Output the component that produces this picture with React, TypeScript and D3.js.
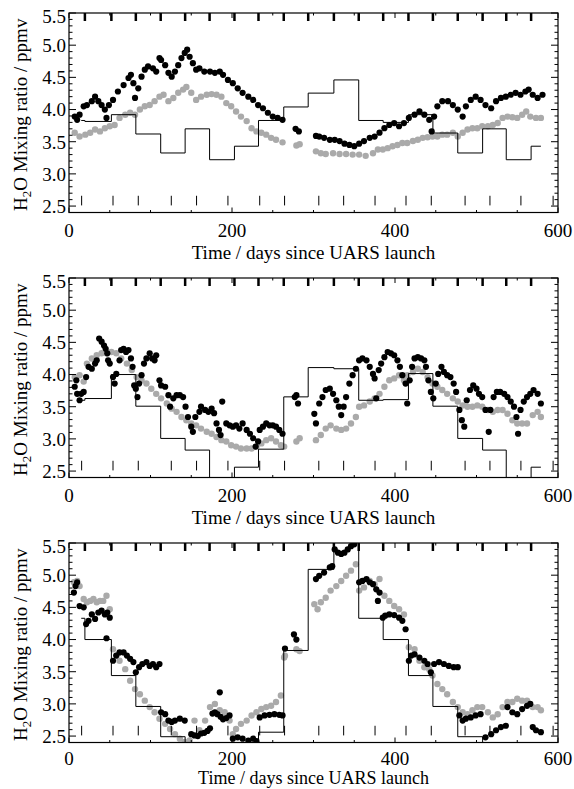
import React from "react";
import * as d3 from "d3";

const xTicksMajor = [0, 200, 400, 600];
const yTicksMajor = [2.5, 3.0, 3.5, 4.0, 4.5, 5.0, 5.5];

// month boundaries (days since launch) used for step line and thick top ticks
const monthEdges = [15, 19.5, 52, 82, 112.5, 142.5, 172.5, 203, 232.5, 263.5, 293.5, 325, 355.5, 385.5, 416.5, 446.5, 477, 507.5, 536.5, 567, 579];
// tall inner ticks along the bottom
const obsTicks = [15.5, 54, 85, 125.5, 156.5, 195, 234, 264.5, 306.5, 337, 375.5, 413.5, 444.5, 486, 516.5, 554.5, 594];

const p1Step = [3.83, 3.815, 3.92, 3.62, 3.325, 3.70, 3.22, 3.43, 3.83, 4.04, 4.255, 4.46, 3.83, 3.80, 3.92, 3.635, 3.325, 3.70, 3.22, 3.43];
const p2Step = [3.60, 3.627, 4.0, 3.508, 3.007, 2.826, 2.3, 2.56, 2.84, 3.653, 4.108, 4.09, 3.60, 3.61, 4.015, 3.508, 3.007, 2.826, 2.3, 2.56];
const p3Step = [4.33, 4.0, 3.44, 2.96, 2.49, 2.3, 2.3, 2.3, 2.56, 3.83, 5.09, 5.6, 4.33, 4.0, 3.44, 2.96, 2.49, 2.3, 2.3, 2.3];

const p1Black: [number, number][] = [[7,3.89],[10,3.84],[13,3.92],[18,4.05],[22,4.07],[28,4.13],[32,4.20],[36,4.13],[40,4.07],[44,4.00],[46,3.87],[49,4.07],[54,4.15],[60,4.28],[67,4.38],[73,4.49],[76,4.54],[79,4.41],[81,4.18],[85,4.33],[89,4.51],[93,4.62],[97,4.67],[103,4.64],[107,4.59],[111,4.80],[113,4.77],[118,4.69],[122,4.57],[126,4.51],[130,4.59],[134,4.69],[138,4.80],[142,4.88],[145,4.93],[148,4.82],[152,4.72],[156,4.62],[160,4.64],[166,4.59],[173,4.59],[179,4.57],[185,4.59],[189,4.54],[195,4.46],[201,4.41],[207,4.33],[213,4.26],[220,4.20],[226,4.15],[232,4.07],[238,4.02],[244,3.95],[250,3.89],[256,3.87],[262,3.84],[278,3.70],[282,3.66],[303,3.59],[307,3.58],[313,3.56],[320,3.53],[326,3.53],[332,3.51],[338,3.47],[344,3.45],[350,3.43],[356,3.47],[362,3.51],[369,3.56],[375,3.58],[381,3.64],[387,3.71],[393,3.76],[399,3.79],[405,3.74],[411,3.79],[417,3.87],[424,3.92],[430,3.97],[436,3.92],[442,3.84],[445,3.66],[448,3.89],[452,4.05],[458,4.13],[465,4.13],[471,4.07],[477,4.00],[483,3.89],[487,4.05],[493,4.15],[499,4.20],[505,4.15],[511,4.07],[518,4.02],[524,4.13],[530,4.18],[536,4.20],[542,4.23],[548,4.26],[554,4.23],[560,4.28],[564,4.31],[569,4.23],[575,4.18],[581,4.23]];
const p1Gray: [number, number][] = [[7,3.64],[13,3.58],[20,3.61],[26,3.64],[32,3.69],[38,3.66],[44,3.71],[50,3.74],[56,3.76],[62,3.87],[69,3.92],[75,3.95],[81,3.92],[87,4.00],[93,4.05],[99,4.07],[105,4.13],[111,4.20],[116,4.23],[122,4.13],[128,4.18],[134,4.26],[140,4.31],[144,4.35],[150,4.26],[156,4.15],[162,4.20],[169,4.23],[175,4.24],[181,4.23],[187,4.20],[193,4.10],[199,4.05],[205,3.97],[211,3.89],[218,3.82],[224,3.71],[230,3.66],[236,3.64],[242,3.61],[248,3.56],[254,3.53],[262,3.49],[279,3.44],[283,3.46],[303,3.35],[309,3.32],[315,3.31],[324,3.32],[332,3.31],[340,3.31],[348,3.30],[356,3.30],[364,3.28],[373,3.32],[379,3.38],[385,3.38],[391,3.40],[397,3.43],[403,3.45],[409,3.48],[415,3.48],[422,3.51],[428,3.53],[434,3.56],[440,3.57],[446,3.58],[452,3.58],[458,3.61],[464,3.61],[471,3.64],[477,3.58],[483,3.64],[489,3.69],[495,3.71],[501,3.71],[507,3.74],[514,3.74],[520,3.76],[526,3.79],[532,3.87],[538,3.89],[544,3.88],[550,3.87],[556,3.92],[561,3.97],[566,3.89],[573,3.87],[579,3.87]];

const p2Black: [number, number][] = [[7,3.81],[9,3.91],[10,3.70],[13,3.60],[15,3.70],[18,3.73],[21,3.96],[24,4.12],[28,4.09],[32,4.17],[34,4.22],[37,4.56],[40,4.51],[43,4.45],[45,4.40],[47,4.33],[48,4.22],[50,4.17],[54,3.96],[56,3.86],[58,4.01],[62,4.22],[64,4.38],[67,4.40],[70,4.35],[73,4.38],[76,4.25],[78,4.12],[80,3.83],[82,3.78],[84,3.65],[86,3.86],[89,3.99],[92,4.17],[95,4.25],[99,4.33],[102,4.25],[105,4.22],[107,4.30],[111,3.91],[113,3.83],[118,3.81],[122,3.68],[124,3.50],[128,3.63],[132,3.68],[136,3.68],[140,3.65],[143,3.50],[146,3.34],[150,3.19],[152,3.11],[155,3.34],[160,3.42],[162,3.50],[167,3.45],[171,3.42],[175,3.47],[178,3.40],[181,3.24],[184,3.14],[186,3.06],[188,3.58],[193,3.24],[197,3.21],[201,3.19],[205,3.21],[209,3.16],[213,3.24],[218,3.14],[222,3.08],[226,3.01],[229,2.88],[232,2.96],[234,3.14],[238,3.19],[242,3.24],[246,3.21],[250,3.21],[254,3.19],[258,3.14],[262,3.08],[277,3.65],[279,3.68],[281,3.55],[301,3.39],[303,3.24],[307,3.55],[311,3.65],[315,3.76],[320,3.78],[324,3.70],[328,3.60],[331,3.50],[334,3.37],[337,3.50],[340,3.65],[344,3.86],[348,3.99],[352,4.09],[356,4.22],[360,4.25],[365,4.22],[369,4.12],[373,4.01],[375,3.94],[377,3.63],[380,4.07],[383,4.17],[387,4.27],[391,4.35],[395,4.33],[399,4.30],[403,4.22],[406,4.12],[409,3.99],[413,3.86],[415,3.55],[418,3.91],[421,4.12],[424,4.25],[428,4.27],[432,4.25],[436,4.22],[438,4.12],[441,3.91],[444,3.73],[447,3.63],[450,3.86],[453,4.01],[457,4.12],[460,4.04],[464,3.99],[468,3.96],[472,3.86],[475,3.73],[479,3.45],[482,3.29],[485,3.19],[488,3.60],[492,3.76],[496,3.83],[500,3.78],[503,3.70],[507,3.65],[511,3.45],[515,3.11],[517,3.45],[521,3.65],[525,3.73],[529,3.73],[534,3.70],[538,3.65],[542,3.58],[546,3.50],[549,3.34],[551,3.08],[554,3.45],[558,3.58],[562,3.65],[566,3.70],[570,3.76],[575,3.70],[579,3.55]];
const p2Gray: [number, number][] = [[7,3.96],[13,3.99],[18,3.89],[22,4.17],[28,4.25],[34,4.30],[40,4.33],[46,4.33],[52,4.35],[58,4.33],[64,4.25],[71,4.17],[77,4.07],[83,3.96],[89,3.91],[95,3.86],[101,3.78],[107,3.70],[113,3.63],[120,3.55],[126,3.47],[132,3.42],[138,3.34],[144,3.29],[150,3.24],[156,3.21],[162,3.16],[169,3.11],[175,3.08],[181,3.03],[187,2.98],[193,2.96],[199,2.90],[205,2.88],[211,2.85],[218,2.85],[224,2.85],[230,2.88],[236,2.93],[242,2.98],[248,3.01],[254,2.96],[260,2.90],[264,2.88],[279,2.96],[283,3.01],[303,2.98],[309,3.06],[315,3.16],[321,3.21],[328,3.16],[334,3.14],[340,3.16],[346,3.24],[352,3.34],[356,3.50],[362,3.52],[369,3.58],[375,3.63],[381,3.70],[387,3.81],[393,3.91],[399,3.94],[405,3.99],[411,3.91],[415,3.99],[422,4.04],[428,4.09],[434,4.04],[440,3.96],[446,3.86],[452,3.81],[458,3.76],[464,3.70],[471,3.63],[477,3.58],[483,3.52],[489,3.50],[495,3.50],[501,3.52],[507,3.50],[514,3.45],[520,3.42],[526,3.45],[532,3.45],[538,3.39],[544,3.29],[550,3.24],[556,3.24],[562,3.24],[569,3.37],[575,3.42],[579,3.34]];

const p3Black: [number, number][] = [[6,4.73],[8,4.83],[10,4.89],[13,4.52],[18,4.50],[21,4.24],[24,4.29],[28,4.39],[32,4.32],[36,4.42],[40,4.45],[44,4.39],[46,4.02],[47,4.42],[50,4.34],[54,3.67],[58,3.75],[62,3.80],[67,3.80],[71,3.75],[75,3.70],[79,3.65],[82,3.49],[86,3.57],[90,3.62],[95,3.65],[99,3.59],[103,3.62],[107,3.57],[111,3.62],[113,2.87],[118,2.84],[122,2.74],[126,2.72],[130,2.74],[136,2.77],[142,2.74],[150,2.53],[154,2.51],[158,2.50],[162,2.54],[166,2.55],[170,2.58],[173,2.62],[176,2.85],[179,2.87],[182,2.84],[185,3.18],[186,2.80],[189,2.76],[193,2.78],[197,2.82],[201,2.46],[207,2.48],[213,2.46],[220,2.43],[226,2.46],[230,2.42],[234,2.79],[240,2.82],[246,2.83],[252,2.84],[258,2.83],[262,2.82],[265,3.86],[276,4.08],[279,4.00],[303,4.94],[307,4.99],[313,5.04],[320,5.12],[323,5.14],[326,5.40],[330,5.35],[334,5.33],[338,5.35],[342,5.40],[346,5.45],[350,5.48],[356,4.89],[360,4.91],[365,4.94],[369,4.89],[373,4.86],[377,4.78],[379,4.60],[381,4.73],[385,4.34],[388,4.37],[393,4.39],[399,4.38],[405,4.34],[409,4.29],[413,4.16],[417,3.67],[420,3.75],[424,3.77],[430,3.72],[436,3.67],[440,3.62],[444,3.49],[448,3.62],[454,3.65],[460,3.62],[466,3.59],[472,3.57],[477,3.57],[479,2.82],[483,2.74],[487,2.77],[493,2.79],[499,2.82],[505,2.84],[511,2.48],[518,2.53],[524,2.59],[530,2.64],[536,2.66],[538,2.95],[544,2.87],[550,2.84],[556,2.92],[562,2.97],[566,3.00],[569,2.64],[573,2.59],[579,2.56]];
const p3Gray: [number, number][] = [[6,4.89],[10,4.91],[13,4.83],[18,4.63],[22,4.58],[26,4.60],[30,4.63],[34,4.58],[38,4.60],[42,4.60],[46,4.68],[50,4.47],[54,3.85],[58,3.75],[62,3.67],[69,3.54],[75,3.36],[81,3.23],[87,3.15],[93,3.05],[99,2.95],[105,2.87],[111,2.77],[118,2.69],[124,2.61],[130,2.53],[136,2.46],[142,2.41],[148,2.43],[154,2.74],[160,2.59],[167,2.74],[173,2.95],[179,3.00],[185,2.90],[191,2.87],[197,2.74],[201,2.53],[205,2.61],[211,2.69],[218,2.74],[224,2.82],[230,2.87],[236,2.92],[242,2.95],[248,2.97],[254,3.03],[260,3.13],[264,3.72],[265,3.75],[279,3.85],[283,3.82],[301,4.55],[305,4.47],[309,4.58],[315,4.65],[321,4.76],[328,4.83],[334,4.91],[340,4.99],[346,5.07],[352,5.17],[356,4.76],[362,4.81],[369,4.91],[375,4.86],[381,4.94],[387,4.68],[393,4.60],[399,4.52],[405,4.47],[411,4.39],[417,3.88],[424,3.85],[430,3.67],[436,3.57],[442,3.54],[446,3.44],[452,3.31],[458,3.23],[464,3.15],[471,3.03],[477,2.95],[483,2.87],[489,2.84],[495,2.90],[501,2.95],[507,2.95],[514,2.87],[520,2.79],[526,2.84],[532,2.95],[538,3.03],[544,3.03],[550,3.08],[556,3.05],[562,3.05],[569,2.95],[575,2.95],[579,2.90]];

const panels = [
  { top: 13, black: p1Black, gray: p1Gray, step: p1Step },
  { top: 278, black: p2Black, gray: p2Gray, step: p2Step },
  { top: 543, black: p3Black, gray: p3Gray, step: p3Step },
];

const W = 574, H = 789;
const left = 69, right = 558, ph = 199.5;
const FONT = "'Liberation Serif', 'Times New Roman', serif";

function Panel({ idx, top, black, gray, step }: any) {
  const x = d3.scaleLinear().domain([0, 600]).range([left, right]);
  const y = d3.scaleLinear().domain([2.4, 5.5]).range([top + ph, top]);
  const bottom = top + ph;
  const clipId = `clip${idx}`;
  const stepPts: [number, number][] = step.map((v: number, i: number) => [monthEdges[i], v]);
  stepPts.push([monthEdges[monthEdges.length - 1], step[step.length - 1]]);
  const line = d3.line<[number, number]>().x(d => x(d[0])).y(d => y(d[1])).curve(d3.curveStepAfter);
  const yMinor = d3.range(25, 56).map(v => v / 10);
  const xMinor = d3.range(0, 601, 50);
  const midY = (top + bottom) / 2;
  const last = idx === 2;
  const tickLabelY = last ? bottom + 22.5 : bottom + 24.5;
  const titleY = last ? H - 5 : bottom + 46;
  const titleSize = last ? 18 : 19;
  return (
    <g>
      <defs>
        <clipPath id={clipId}>
          <rect x={left} y={top} width={right - left} height={ph} />
        </clipPath>
      </defs>
      <g clipPath={`url(#${clipId})`}>
        {gray.map((d: [number, number], i: number) => (
          <circle key={"g" + i} cx={x(d[0])} cy={y(d[1])} r={3.2} fill="#aaaaaa" />
        ))}
        {black.map((d: [number, number], i: number) => (
          <circle key={"b" + i} cx={x(d[0])} cy={y(d[1])} r={3.1} fill="#000" />
        ))}
        <path d={line(stepPts) || ""} fill="none" stroke="#000" strokeWidth={1} />
      </g>
      {obsTicks.map((t, i) => (
        <line key={"o" + i} x1={x(t)} x2={x(t)} y1={y(2.51)} y2={y(2.66)} stroke="#000" strokeWidth={1} />
      ))}
      {monthEdges.slice(1, -1).map((t, i) => (
        <rect key={"m" + i} x={x(t) - 1.25} y={top} width={2.5} height={8} fill="#000" />
      ))}
      {yMinor.map((v, i) => {
        const major = Math.abs(v * 2 - Math.round(v * 2)) < 1e-6;
        const len = major ? 7 : 3.5;
        return (
          <g key={"y" + i}>
            <line x1={left} x2={left + len} y1={y(v)} y2={y(v)} stroke="#000" strokeWidth={1} />
            <line x1={right} x2={right - len} y1={y(v)} y2={y(v)} stroke="#000" strokeWidth={1} />
          </g>
        );
      })}
      {xMinor.map((v, i) => {
        const major = v % 200 === 0;
        const len = major ? 5 : 2.5;
        return (
          <g key={"x" + i}>
            <line x1={x(v)} x2={x(v)} y1={bottom} y2={bottom - len} stroke="#000" strokeWidth={1} />
            <line x1={x(v)} x2={x(v)} y1={top} y2={top + len} stroke="#000" strokeWidth={1} />
          </g>
        );
      })}
      <rect x={left} y={top} width={right - left} height={ph} fill="none" stroke="#000" strokeWidth={1.2} />
      {yTicksMajor.map((v, i) => (
        <text key={"yl" + i} x={66} y={y(v) + (v === 5.5 ? 3 : 0)} dy="0.36em" textAnchor="end" fontFamily={FONT} fontSize={19}>
          {v.toFixed(1)}
        </text>
      ))}
      {xTicksMajor.map((v, i) => (
        <text key={"xl" + i} x={x(v)} y={tickLabelY} textAnchor="middle" fontFamily={FONT} fontSize={19}>
          {v}
        </text>
      ))}
      <text x={(left + right) / 2} y={titleY} textAnchor="middle" fontFamily={FONT} fontSize={titleSize}>
        Time / days since UARS launch
      </text>
      <text transform={`translate(27,${midY + 2}) rotate(-90)`} textAnchor="middle" fontFamily={FONT} fontSize={19}>
        H<tspan fontSize={13} dy={4}>2</tspan><tspan dy={-4}>O Mixing ratio / ppmv</tspan>
      </text>
    </g>
  );
}

export default function App() {
  return (
    <svg width={W} height={H} style={{ position: "absolute", left: 0, top: 0, background: "#fff" }}>
      <rect width={W} height={H} fill="#fff" />
      {panels.map((p, i) => (
        <Panel key={i} idx={i} {...p} />
      ))}
    </svg>
  );
}
